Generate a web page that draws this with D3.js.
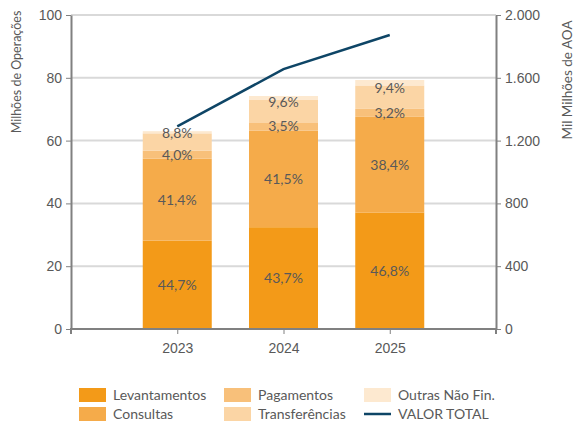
<!DOCTYPE html>
<html>
<head>
<meta charset="utf-8">
<script src="https://cdn.jsdelivr.net/npm/d3@7"></script>
<style>
	body { margin: 0; background: #fff; }
	svg { font-family: Lato, "Open Sans", sans-serif; }
	text { fill: #595959; }
</style>
</head>
<body>
<svg width="576" height="421"></svg>
<script>

// data
const YEARS = ['2023', '2024', '2025'];
const TOTAL_OPS = [63.0, 74.2, 79.3]; // Milhões de Operações
const SERIES = ['Levantamentos', 'Consultas', 'Pagamentos', 'Transferências', 'Outras Não Fin.'];
const PCT_LEVANTAMENTOS = [44.7, 43.7, 46.8];
const PCT_CONSULTAS = [41.4, 41.5, 38.4];
const PCT_PAGAMENTOS = [4.0, 3.5, 3.2];
const PCT_TRANSFERENCIAS = [8.8, 9.6, 9.4];
const PCT_OUTRAS = [1.1, 1.7, 2.2];
const VALOR_TOTAL = [1290, 1655, 1873]; // Mil Milhões de AOA
const LEFT_TICKS = [0, 20, 40, 60, 80, 100];
const RIGHT_TICKS = [0, 400, 800, 1200, 1600, 2000];

const COLORS = ['#F39A18', '#F5AB4A', '#F8C07A', '#FBD5A5', '#FDE9D0'];
const LINE_COLOR = '#0E4566';

const MARGIN = { top: 15, right: 80, bottom: 92, left: 71 };

function whenDocumentLoaded(action) {
	if (document.readyState === "loading") {
		document.addEventListener("DOMContentLoaded", action);
	} else {
		action();
	}
}

// percent labels shown on the chart (outras has none)
const LABELLED = [true, true, true, true, false];

whenDocumentLoaded(() => {

	const svg = d3.select('svg');
	const width = +svg.attr('width') - MARGIN.left - MARGIN.right;
	const height = +svg.attr('height') - MARGIN.top - MARGIN.bottom;

	const pcts = [PCT_LEVANTAMENTOS, PCT_CONSULTAS, PCT_PAGAMENTOS, PCT_TRANSFERENCIAS, PCT_OUTRAS];

	const rows = YEARS.map((y, i) => {
		const row = { year: y };
		SERIES.forEach((s, k) => { row[s] = TOTAL_OPS[i] * pcts[k][i] / 100; });
		return row;
	});
	const stacked = d3.stack().keys(SERIES)(rows);

	const x = d3.scalePoint()
	.domain(YEARS)
	.range([0, width])
	.padding(1);
	const barW = 69;

	const y = d3.scaleLinear().domain([0, 100]).range([height, 0]);
	const y2 = d3.scaleLinear().domain([0, 2000]).range([height, 0]);

	const g = svg.append('g')
	.attr('transform', 'translate(' + MARGIN.left + ' ' + MARGIN.top + ')');

	// gridlines
	g.selectAll('.grid')
	.data(LEFT_TICKS.slice(1))
	.enter()
	.append('line')
	.attr('x1', 0)
	.attr('x2', width)
	.attr('y1', d => y(d))
	.attr('y2', d => y(d))
	.attr('stroke', '#d9d9d9')
	.attr('stroke-width', 2);

	// bars
	g.selectAll('.layer')
	.data(stacked)
	.enter()
	.append('g')
	.attr('fill', (d, i) => COLORS[i])
	.selectAll('rect')
	.data(d => d)
	.enter()
	.append('rect')
	.attr('x', d => x(d.data.year) - barW / 2)
	.attr('width', barW)
	.attr('y', d => y(d[1]))
	.attr('height', d => y(d[0]) - y(d[1]));

	// percent labels
	stacked.forEach((layer, k) => {
		if (!LABELLED[k]) return;
		// the transferências labels sit a bit above the segment centre
		const shift = k === 3 ? -9 : 0;
		g.selectAll('.lbl' + k)
		.data(layer)
		.enter()
		.append('text')
		.attr('x', d => x(d.data.year))
		.attr('y', d => (y(d[0]) + y(d[1])) / 2 + shift)
		.attr('dy', '0.35em')
		.attr('text-anchor', 'middle')
		.attr('font-size', 14)
		.text((d, i) => pcts[k][i].toFixed(1).replace('.', ',') + '%');
	});

	// total value line
	const line = d3.line()
	.x((d, i) => x(YEARS[i]))
	.y(d => y2(d));
	g.append('path')
	.datum(VALOR_TOTAL)
	.attr('fill', 'none')
	.attr('stroke', LINE_COLOR)
	.attr('stroke-width', 2.5)
	.attr('d', line);

	// axes
	const fmtPt = d3.formatLocale({ decimal: ',', thousands: '.', grouping: [3], currency: ['', ''] }).format(',');

	const axisStyle = sel => {
		sel.select('.domain').attr('stroke', '#808080').attr('stroke-width', 2);
		sel.selectAll('.tick line').attr('stroke', '#808080');
		sel.selectAll('.tick text').attr('fill', '#595959').attr('font-size', 14).attr('font-family', null);
	};

	g.append('g')
	.call(d3.axisLeft(y).tickValues(LEFT_TICKS).tickSize(5).tickSizeOuter(0).tickPadding(4))
	.call(axisStyle);

	g.append('g')
	.attr('transform', 'translate(' + width + ' 0)')
	.call(d3.axisRight(y2).tickValues(RIGHT_TICKS).tickFormat(fmtPt).tickSize(5).tickSizeOuter(0).tickPadding(4))
	.call(axisStyle);

	const xAxis = g.append('g')
	.attr('transform', 'translate(0 ' + height + ')')
	.call(d3.axisBottom(x).tickSize(5).tickSizeOuter(5).tickPadding(9))
	.call(axisStyle);
	xAxis.select('.domain').attr('d', 'M0,5V0H' + width + 'V5');

	// axis titles
	svg.append('text')
	.attr('transform', 'translate(21 72) rotate(-90)')
	.attr('text-anchor', 'middle')
	.attr('font-size', 12.5)
	.text('Milhões de Operações');

	svg.append('text')
	.attr('transform', 'translate(572 80) rotate(-90)')
	.attr('text-anchor', 'middle')
	.attr('font-size', 13.5)
	.text('Mil Milhões de AOA');

	// legend
	const legendItems = [
		{ name: SERIES[0], color: COLORS[0], col: 0, row: 0 },
		{ name: SERIES[1], color: COLORS[1], col: 0, row: 1 },
		{ name: SERIES[2], color: COLORS[2], col: 1, row: 0 },
		{ name: SERIES[3], color: COLORS[3], col: 1, row: 1 },
		{ name: SERIES[4], color: COLORS[4], col: 2, row: 0 },
		{ name: 'VALOR TOTAL', color: LINE_COLOR, col: 2, row: 1, line: true }
	];
	const colX = [79, 224, 364];
	const rowY = [395, 414];

	const leg = svg.selectAll('.legend')
	.data(legendItems)
	.enter()
	.append('g')
	.attr('transform', d => 'translate(' + colX[d.col] + ' ' + rowY[d.row] + ')');

	leg.filter(d => !d.line)
	.append('rect')
	.attr('x', 0)
	.attr('y', -7)
	.attr('width', 27)
	.attr('height', 14)
	.attr('fill', d => d.color);

	leg.filter(d => d.line)
	.append('line')
	.attr('x1', 0)
	.attr('x2', 27)
	.attr('stroke', d => d.color)
	.attr('stroke-width', 2.5);

	leg.append('text')
	.attr('x', 34)
	.attr('dy', '0.35em')
	.attr('font-size', 14)
	.text(d => d.name);

});
</script>
</body>
</html>
